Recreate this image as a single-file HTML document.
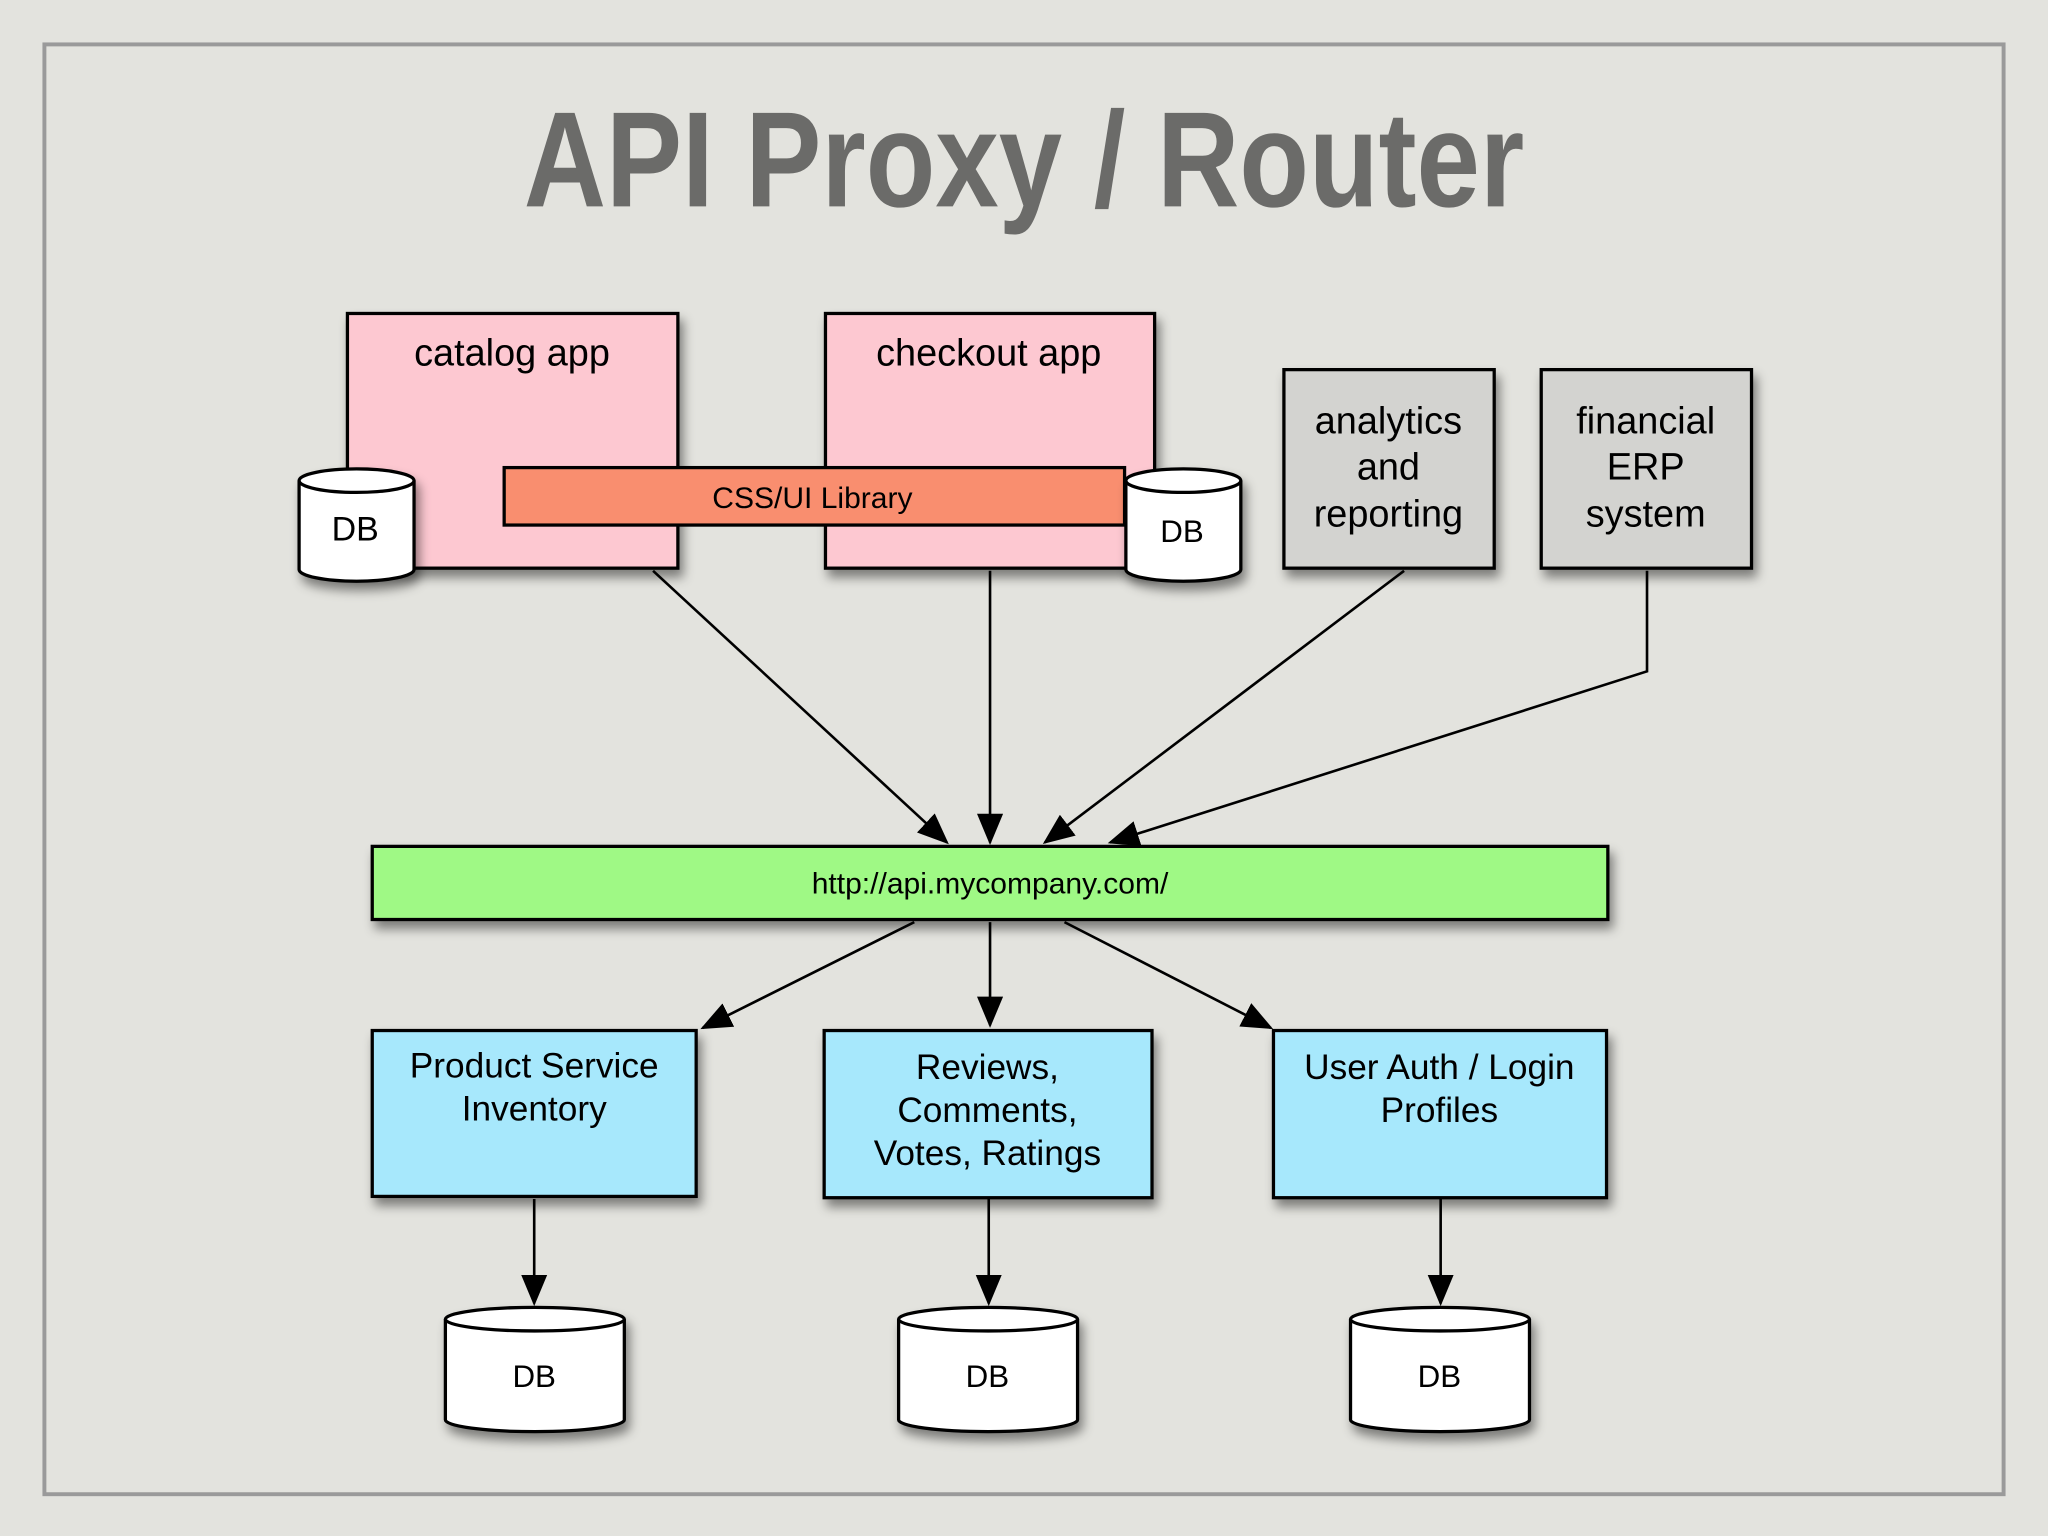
<!DOCTYPE html>
<html><head><meta charset="utf-8"><style>
html,body{margin:0;padding:0;background:#e3e3de;}
svg{display:block}
text{font-family:"Liberation Sans",sans-serif;fill:#000}
</style></head><body>
<svg width="2048" height="1536" viewBox="0 0 1568 1176" xmlns="http://www.w3.org/2000/svg">
<defs>
<filter id="sh" x="-10%" y="-10%" width="130%" height="140%">
<feDropShadow dx="3" dy="6" stdDeviation="4" flood-color="#000" flood-opacity="0.45"/>
</filter>
<marker id="ar" markerWidth="12" markerHeight="12" refX="11" refY="6" orient="auto" markerUnits="userSpaceOnUse" viewBox="0 0 12 12">
<path d="M0,0 L12,6 L0,12 z" fill="#000"/>
</marker>
<marker id="ah" markerWidth="24" markerHeight="20" refX="22" refY="10" orient="auto" markerUnits="userSpaceOnUse" viewBox="0 0 24 20">
<path d="M0,0 L24,10 L0,20 z" fill="#000"/>
</marker>
</defs>
<rect width="1568" height="1176" fill="#e3e3de"/>
<rect x="34" y="34" width="1500" height="1110" fill="none" stroke="#9a9a9a" stroke-width="3"/>
<text x="784" y="158" text-anchor="middle" font-size="104" font-weight="bold" fill="#6b6b69" style="fill:#6b6b69" textLength="766" lengthAdjust="spacingAndGlyphs">API Proxy / Router</text>

<g stroke="#000" stroke-width="2.5">
<rect x="266" y="240" width="253" height="195" fill="#fdc8d1" filter="url(#sh)"/>
<rect x="632" y="240" width="252" height="195" fill="#fdc8d1" filter="url(#sh)"/>
<rect x="983" y="283" width="161" height="152" fill="#d3d3d0" filter="url(#sh)"/>
<rect x="1180" y="283" width="161" height="152" fill="#d3d3d0" filter="url(#sh)"/>
<rect x="386" y="358" width="475" height="44" fill="#f98e6f"/>
<!-- DBs top -->
<g filter="url(#sh)">
<path d="M229,368 L229,436 A44,9 0 0 0 317,436 L317,368" fill="#fff"/>
<ellipse cx="273" cy="368" rx="44" ry="9" fill="#fff"/>
<path d="M862,368 L862,436 A44,9 0 0 0 950,436 L950,368" fill="#fff"/>
<ellipse cx="906" cy="368" rx="44" ry="9" fill="#fff"/>
</g>
<rect x="285" y="648" width="946" height="56" fill="#9ff985" filter="url(#sh)"/>
<rect x="285" y="789" width="248" height="127" fill="#a7e8fc" filter="url(#sh)"/>
<rect x="631" y="789" width="251" height="128" fill="#a7e8fc" filter="url(#sh)"/>
<rect x="975" y="789" width="255" height="128" fill="#a7e8fc" filter="url(#sh)"/>
<g filter="url(#sh)">
<path d="M341,1010 L341,1087 A68,9 0 0 0 478,1087 L478,1010" fill="#fff"/>
<ellipse cx="409.5" cy="1010" rx="68.5" ry="9" fill="#fff"/>
<path d="M688,1010 L688,1087 A68,9 0 0 0 825,1087 L825,1010" fill="#fff"/>
<ellipse cx="756.5" cy="1010" rx="68.5" ry="9" fill="#fff"/>
<path d="M1034,1010 L1034,1087 A68,9 0 0 0 1171,1087 L1171,1010" fill="#fff"/>
<ellipse cx="1102.5" cy="1010" rx="68.5" ry="9" fill="#fff"/>
</g>
</g>

<g stroke="#000" stroke-width="2" fill="none" marker-end="url(#ah)">
<path d="M500,437 L725,645"/>
<path d="M758,437 L758,645"/>
<path d="M1075,437 L800,645"/>
<path d="M1261,437 L1261,514 L850,645"/>
<path d="M700,706 L538,787"/>
<path d="M758,706 L758,785"/>
<path d="M815,706 L973,787"/>
<path d="M409,918 L409,998"/>
<path d="M757,918 L757,998"/>
<path d="M1103,918 L1103,998"/>
</g>

<g font-size="29" text-anchor="middle">
<text x="392" y="280">catalog app</text>
<text x="757" y="280">checkout app</text>
<text x="1063" y="332">analytics</text>
<text x="1063" y="367">and</text>
<text x="1063" y="403">reporting</text>
<text x="1260" y="332">financial</text>
<text x="1260" y="367">ERP</text>
<text x="1260" y="403">system</text>
</g>
<g text-anchor="middle">
<text x="622" y="389" font-size="23">CSS/UI Library</text>
<text x="272" y="414" font-size="26">DB</text>
<text x="905" y="415" font-size="24">DB</text>
<text x="758" y="684" font-size="23">http://api.mycompany.com/</text>
<g font-size="27">
<text x="409" y="825">Product Service</text>
<text x="409" y="858">Inventory</text>
<text x="756" y="826">Reviews,</text>
<text x="756" y="859">Comments,</text>
<text x="756" y="892">Votes, Ratings</text>
<text x="1102" y="826">User Auth / Login</text>
<text x="1102" y="859">Profiles</text>
</g>
<g font-size="24">
<text x="409" y="1062">DB</text>
<text x="756" y="1062">DB</text>
<text x="1102" y="1062">DB</text>
</g>
</g>
</svg>
</body></html>
